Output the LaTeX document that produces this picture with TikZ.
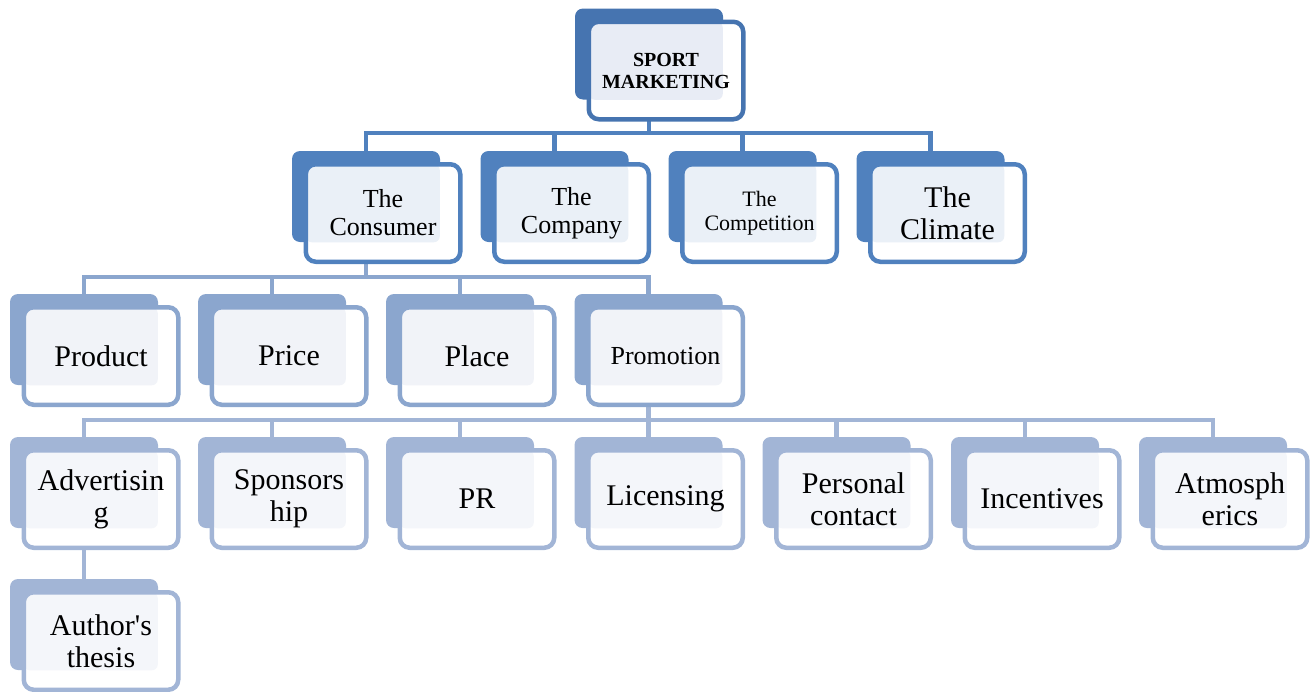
\documentclass[tikz,border=0pt]{standalone}
\usepackage{fontspec}
\setmainfont{Liberation Serif}
\usetikzlibrary{backgrounds}
\definecolor{lvlA}{RGB}{70,116,176}
\definecolor{lvlB}{RGB}{80,129,190}
\definecolor{lvlC}{RGB}{139,166,206}
\definecolor{lvlD}{RGB}{162,181,214}
\definecolor{paleA}{RGB}{232,236,245}
\definecolor{paleB}{RGB}{234,240,247}
\definecolor{paleC}{RGB}{241,243,248}
\definecolor{paleD}{RGB}{244,246,250}
\tikzset{
  backbox/.style={fill=#1,rounded corners=8pt,minimum width=148pt,minimum height=91pt,inner sep=0pt,outer sep=0pt},
  frontbox/.style 2 args={draw=#1,fill=white,line width=4.5pt,rounded corners=10pt,
    minimum width=154.5pt,minimum height=97.5pt,inner sep=0pt,outer sep=0pt,align=center,
    path picture={\fill[#2,rounded corners=6pt] (path picture bounding box.north west)
      rectangle ([xshift=134pt,yshift=-78pt]path picture bounding box.north west);}},
  link/.style={draw=#1,line width=4.5pt}
}
\newcommand{\fs}[1]{\fontsize{#1}{\numexpr#1+2\relax}\selectfont}
\begin{document}
\begin{tikzpicture}[x=1pt,y=-1pt]
	\useasboundingbox (0,0) rectangle (1311,691);
	% top
	\node[backbox=lvlA] (sm) at (649,54) {};
	\node[frontbox={lvlA}{paleA},font=\bfseries\fs{20}] (sm-f) at ([xshift=17pt,yshift=-16.5pt]sm.center) {SPORT\\MARKETING};
	% four Cs
	\foreach \n/\x/\s/\t in {cons/366/26/{The\\Consumer},comp/554.5/26/{The\\Company},
	    compe/742.5/22/{The\\Competition},clim/930.5/30/{The\\Climate}}{
		\node[backbox=lvlB] (\n) at (\x,196.5) {};
		\node[frontbox={lvlB}{paleB},font=\fs{\s}] (\n-f) at ([xshift=17pt,yshift=-16.5pt]\n.center) {\t};
	}
	% four Ps
	\foreach \n/\x/\s/\t in {prod/84/30/Product,pric/272/30/Price,plac/460/30/Place,prom/648.5/26/Promotion}{
		\node[backbox=lvlC] (\n) at (\x,339.5) {};
		\node[frontbox={lvlC}{paleC},font=\fs{\s}] (\n-f) at ([xshift=17pt,yshift=-16.5pt]\n.center) {\t};
	}
	% promotion mix
	\foreach \n/\x/\t in {adv/84/{Advertisin\\g},spon/272/{Sponsors\\hip},pr/460/PR,lic/648.5/Licensing,
	    pers/836.5/{Personal\\contact},inc/1025/Incentives,atm/1213/{Atmosph\\erics}}{
		\node[backbox=lvlD] (\n) at (\x,482.5) {};
		\node[frontbox={lvlD}{paleD},font=\fs{30}] (\n-f) at ([xshift=17pt,yshift=-16.5pt]\n.center) {\t};
	}
	\node[backbox=lvlD] (auth) at (84,624.5) {};
	\node[frontbox={lvlD}{paleD},font=\fs{30}] (auth-f) at ([xshift=17pt,yshift=-16.5pt]auth.center) {Author\textquotesingle s\\thesis};
	% connectors
	\coordinate (bar1) at (0,133);
	\coordinate (bar2) at (0,277);
	\coordinate (bar3) at (0,420);
	\begin{scope}[on background layer]
		\draw[link=lvlB] (sm.center) -- (sm |- bar1);
		\foreach \c in {cons,comp,compe,clim}
			\draw[link=lvlB] (sm |- bar1) -| (\c.north);
		\draw[link=lvlC] (cons.center) -- (cons |- bar2);
		\foreach \c in {prod,pric,plac,prom}
			\draw[link=lvlC] (cons |- bar2) -| (\c.north);
		\draw[link=lvlD] (prom.center) -- (prom |- bar3);
		\foreach \c in {adv,spon,pr,lic,pers,inc,atm}
			\draw[link=lvlD] (prom |- bar3) -| (\c.north);
		\draw[link=lvlD] (adv.center) -- (auth.north);
	\end{scope}
\end{tikzpicture}
\end{document}
